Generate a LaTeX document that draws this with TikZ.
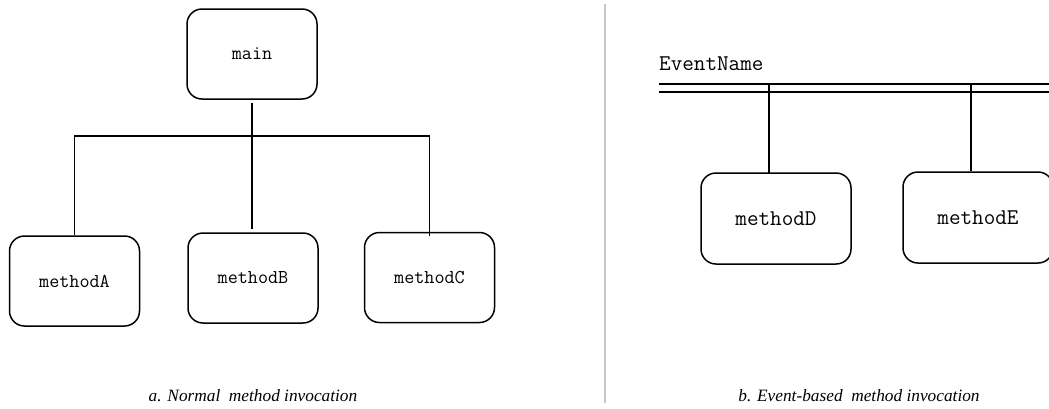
\documentclass[tikz,border=0pt]{standalone}
\usepackage{fontspec}
\setmainfont{Liberation Serif}
\usetikzlibrary{calc}
\begin{document}
\begin{tikzpicture}[x=1pt,y=-1pt,
  method/.style={draw, line width=1.5pt, rounded corners=15pt, align=center, inner sep=0pt},
  smallbox/.style={method, minimum width=130pt, minimum height=90pt, font=\ttfamily\fontsize{19.6}{22}\selectfont},
  bigbox/.style={method, minimum width=150pt, minimum height=91pt, font=\ttfamily\fontsize{22.5}{25}\selectfont},
  wire/.style={line width=1.3pt},
  caption/.style={font=\itshape\fontsize{17.3}{20}\selectfont, anchor=base},
  divider/.style={draw=black!22, line width=1.4pt}]
\useasboundingbox (0,0) rectangle (1049,408);

% panel a: ordinary call tree
\node[smallbox] (main) at (252,54) {main};
\node[smallbox] (methodA) at (74.5,281) {methodA};
\node[smallbox] (methodB) at (253,278) {methodB};
\node[smallbox] (methodC) at (429.5,277.5) {methodC};
\coordinate (bus) at (252,136);
\draw[wire, shorten <=3pt] (main.south) -- (bus);
\draw[wire, shorten >=3pt] (bus) -- (bus |- methodB.north);
\draw[wire] (methodA.north) -- (methodA.north |- bus) -- (methodC.north |- bus) -- ([yshift=-4pt]methodC.north);
\node[caption] (capA) at (253,401) {a. Normal\ \ method invocation};

% divider between the panels
\draw[divider] (605,4) -- (605,403);

% panel b: event bus
\node[font=\ttfamily\fontsize{22.5}{25}\selectfont, anchor=base west, inner sep=0pt] (evt) at (659,70) {EventName};
\coordinate (busL) at (659,84);
\coordinate (busR) at (1060,84);
\draw[line width=1.2pt] ([yshift=-8pt]busL) -- ([yshift=-8pt]busR);
\draw[line width=1.7pt] (busL) -- (busR);
\node[bigbox] (methodD) at (776,218.5) {methodD};
\node[bigbox] (methodE) at (978,217.5) {methodE};
\coordinate (tapD) at (769,84);
\coordinate (tapE) at (971,84);
\draw[wire] (tapD) -- ([yshift=-2pt]tapD |- methodD.north);
\draw[wire] (tapE) -- (tapE |- methodE.north);
\node[caption] (capB) at (859,401) {b. Event-based\ \ method invocation};
\end{tikzpicture}
\end{document}
